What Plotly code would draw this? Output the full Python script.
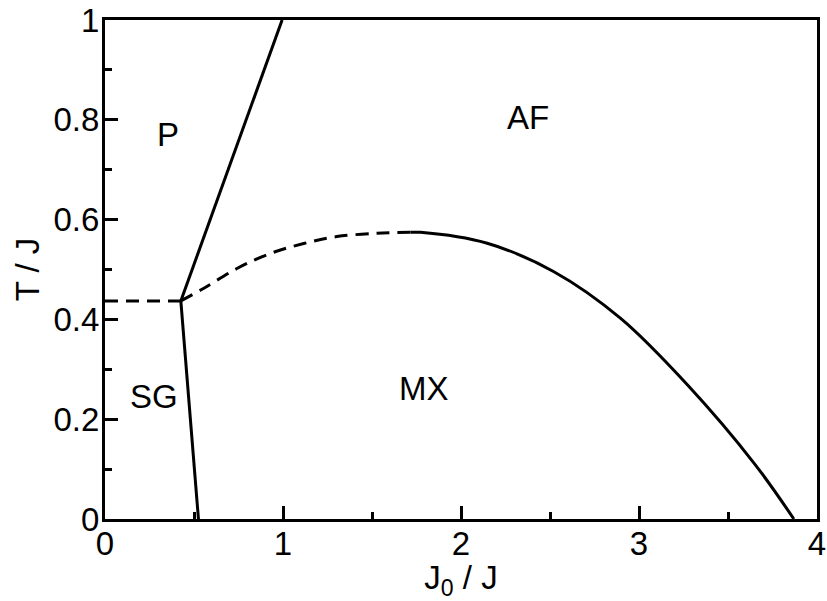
import plotly.graph_objects as go

# phase boundaries (J0/J, T/J)
pf_x = [0.426, 0.995]
pf_y = [0.437, 1.0]

sg_x = [0.426, 0.525]
sg_y = [0.437, 0.0]

flat_x = [0.0, 0.426]
flat_y = [0.437, 0.437]

dash_x = [0.426, 0.553, 0.741, 0.928, 1.116, 1.303, 1.528, 1.716]
dash_y = [0.437, 0.462, 0.502, 0.532, 0.552, 0.566, 0.5725, 0.5745]

af_x = [1.716, 1.772, 2.147, 2.522, 2.897, 3.273, 3.647, 3.87]
af_y = [0.5745, 0.5745, 0.5525, 0.4956, 0.402, 0.2685, 0.1116, 0.0]

region_names = ['P', 'AF', 'SG', 'MX']
region_x = [0.354, 2.374, 0.276, 1.79]
region_y = [0.77, 0.804, 0.245, 0.262]

FONT = 'Liberation Sans, Arial, sans-serif'

fig = go.Figure()

solid = dict(color='black', width=3)
dashed = dict(color='black', width=3, dash='13px,8px')

fig.add_trace(go.Scatter(x=pf_x, y=pf_y, mode='lines', line=solid))
fig.add_trace(go.Scatter(x=sg_x, y=sg_y, mode='lines', line=solid))
fig.add_trace(go.Scatter(x=flat_x, y=flat_y, mode='lines', line=dashed))
fig.add_trace(go.Scatter(x=dash_x, y=dash_y, mode='lines', line=dict(dashed, shape='spline')))
fig.add_trace(go.Scatter(x=af_x, y=af_y, mode='lines', line=dict(solid, shape='spline')))

for name, x, y in zip(region_names, region_x, region_y):
    fig.add_annotation(x=x, y=y, text=name, showarrow=False,
                       font=dict(family=FONT, size=33, color='black'))

axis_common = dict(
    showline=True, linecolor='black', linewidth=3, mirror=True,
    showgrid=False, zeroline=False, automargin=False, ticklabeloverflow='allow',
    ticks='inside', ticklen=13, tickwidth=3, tickcolor='black',
    tickfont=dict(family=FONT, size=33, color='black'),
)

fig.update_xaxes(range=[0, 4], tickvals=[0, 1, 2, 3, 4], ticklabelstandoff=-7,
                 minor=dict(tickvals=[0.5, 1.5, 2.5, 3.5], ticks='inside', ticklen=7,
                            tickwidth=3, tickcolor='black'),
                 title=dict(text='J<sub>0</sub> / J', standoff=0,
                            font=dict(family=FONT, size=33, color='black')),
                 **axis_common)
fig.update_yaxes(range=[0, 1], tickvals=[0, 0.2, 0.4, 0.6, 0.8, 1], ticklabelstandoff=-4,
                 ticktext=['0', '0.2', '0.4', '0.6', '0.8', '1'],
                 minor=dict(tickvals=[0.1, 0.3, 0.5, 0.7, 0.9], ticks='inside', ticklen=7,
                            tickwidth=3, tickcolor='black'),
                 title=dict(text='T / J', standoff=4,
                            font=dict(family=FONT, size=33, color='black')),
                 **axis_common)

fig.update_layout(
    width=827, height=601,
    margin=dict(l=105, r=10, t=20, b=82),
    plot_bgcolor='white', paper_bgcolor='white',
    showlegend=False,
)

# drop the default 8px body margin so the figure fills the window exactly
fig.write_html("out.html", config={'displayModeBar': False},
               post_script="document.body.style.margin='0';")
